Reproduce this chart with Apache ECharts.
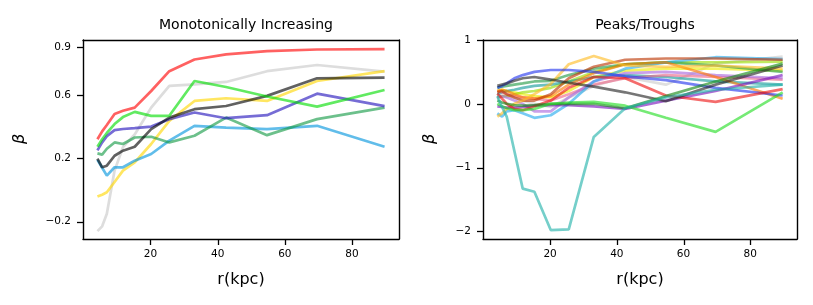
<!DOCTYPE html>
<html>
<head>
<meta charset="utf-8">
<script src="https://cdn.jsdelivr.net/npm/echarts@6/dist/echarts.min.js"></script>
<style>
html,body{margin:0;padding:0;background:#fff;}
#c{width:813px;height:305px;}
</style>
</head>
<body>
<div id="c"></div>
<script>
// radial bins (kpc)
const R = [4.2, 5.6, 7.0, 9.3, 11.8, 15.3, 20.2, 25.6, 33.1, 42.5, 54.7, 69.6, 89.7];

// ---- Monotonically Increasing ----
const mRed       = [0.32, 0.37, 0.41, 0.48, 0.50, 0.52, 0.625, 0.75, 0.824, 0.856, 0.877, 0.887, 0.889];
const mGreen     = [0.273, 0.32, 0.36, 0.416, 0.46, 0.493, 0.468, 0.468, 0.688, 0.65, 0.59, 0.526, 0.631];
const mPurple    = [0.25, 0.30, 0.34, 0.378, 0.385, 0.39, 0.40, 0.447, 0.489, 0.453, 0.472, 0.608, 0.529];
const mMedGreen  = [0.231, 0.223, 0.26, 0.30, 0.29, 0.331, 0.336, 0.30, 0.342, 0.457, 0.346, 0.447, 0.52];
const mDarkGrey  = [0.198, 0.143, 0.153, 0.216, 0.248, 0.273, 0.384, 0.457, 0.51, 0.53, 0.594, 0.705, 0.709];
const mBlue      = [0.19, 0.14, 0.09, 0.143, 0.143, 0.185, 0.227, 0.311, 0.405, 0.394, 0.384, 0.405, 0.273];
const mYellow    = [-0.042, -0.03, -0.015, 0.05, 0.122, 0.174, 0.29, 0.436, 0.562, 0.579, 0.562, 0.688, 0.75];
const mLightGrey = [-0.26, -0.23, -0.15, 0.122, 0.27, 0.35, 0.52, 0.657, 0.667, 0.682, 0.75, 0.789, 0.747];

// ---- Peaks/Troughs ----
const pCyan      = [0.12, -0.05, -0.2, -0.74, -1.33, -1.38, -1.98, -1.97, -0.52, -0.07, 0.1, 0.22, 0.30];
const pGreen     = [0.0, -0.04, -0.07, -0.1, -0.1, -0.08, 0.0, 0.02, 0.03, -0.03, -0.22, -0.44, 0.18];
const pDarkGrey  = [0.28, 0.3, 0.32, 0.36, 0.40, 0.42, 0.38, 0.33, 0.27, 0.18, 0.04, 0.3, 0.6];
const pDarkGreen = [0.05, 0.02, 0.0, -0.02, -0.03, -0.02, 0.0, 0.0, 0.0, -0.07, 0.12, 0.35, 0.63];
const pBlue      = [0.25, 0.28, 0.32, 0.40, 0.45, 0.50, 0.53, 0.53, 0.50, 0.43, 0.37, 0.25, 0.13];
const pGold      = [-0.2, -0.15, -0.08, 0.0, 0.05, 0.15, 0.31, 0.62, 0.75, 0.6, 0.58, 0.6, 0.55];
const pRed       = [0.16, 0.08, 0.0, -0.08, -0.1, -0.04, 0.05, 0.25, 0.42, 0.40, 0.13, 0.03, 0.23];
const pBrown     = [0.18, 0.2, 0.15, 0.1, 0.05, 0.05, 0.15, 0.4, 0.58, 0.69, 0.71, 0.71, 0.69];
const pOrange    = [0.2, 0.22, 0.2, 0.15, 0.1, 0.08, 0.12, 0.3, 0.48, 0.62, 0.65, 0.42, 0.08];
const pPurple    = [-0.04, -0.05, -0.06, -0.06, -0.05, -0.03, -0.02, -0.02, -0.04, -0.08, 0.05, 0.2, 0.45];
const pLavender  = [0.1, 0.12, 0.1, 0.05, 0.0, -0.12, -0.12, 0.1, 0.35, 0.48, 0.5, 0.45, 0.4];
const pLightGrey = [0.15, 0.12, 0.12, 0.1, 0.05, 0.0, -0.05, 0.1, 0.28, 0.42, 0.3, 0.63, 0.74];
const pSkyBlue   = [-0.15, -0.2, -0.12, -0.1, -0.15, -0.22, -0.18, 0.0, 0.35, 0.55, 0.65, 0.73, 0.7];
const pYellow    = [0.2, 0.22, 0.2, 0.18, 0.15, 0.12, 0.1, 0.2, 0.42, 0.52, 0.55, 0.55, 0.52];
const pYellowGrn = [0.1, 0.12, 0.12, 0.15, 0.18, 0.2, 0.25, 0.35, 0.5, 0.62, 0.65, 0.65, 0.66];
const pMedGreen  = [0.25, 0.27, 0.28, 0.3, 0.32, 0.35, 0.36, 0.45, 0.55, 0.62, 0.65, 0.6, 0.5];
const pTeal      = [0.15, 0.18, 0.2, 0.22, 0.25, 0.28, 0.3, 0.35, 0.42, 0.45, 0.42, 0.35, 0.3];
const pPink      = [0.2, 0.18, 0.15, 0.12, 0.1, 0.08, 0.05, 0.15, 0.3, 0.4, 0.45, 0.42, 0.38];

// tick labels
const xTicks = [20, 40, 60, 80];
const yTicksLeft = [-0.2, 0.2, 0.6, 0.9];
const yTicksRight = [-2, -1, 0, 1];
const titles = ['Monotonically Increasing', 'Peaks/Troughs'];
const xLabel = 'r(kpc)';
const yLabel = 'β';

const leftSeries = [
  [mLightGrey, '#c8c8c8'],
  [mYellow, '#ffd700'],
  [mBlue, '#0095dd'],
  [mMedGreen, '#119944'],
  [mPurple, '#2211bb'],
  [mDarkGrey, '#000000'],
  [mGreen, '#00dd00'],
  [mRed, '#ff0000']
];
const rightSeries = [
  [pLightGrey, '#cccccc'],
  [pYellow, '#eeee00'],
  [pYellowGrn, '#99dd00'],
  [pMedGreen, '#229944'],
  [pTeal, '#119999'],
  [pPink, '#ee6688'],
  [pLavender, '#aa66dd'],
  [pSkyBlue, '#22aaee'],
  [pOrange, '#ff7700'],
  [pBrown, '#bb3300'],
  [pGold, '#ffbb22'],
  [pBlue, '#2233ee'],
  [pPurple, '#7711bb'],
  [pRed, '#ee1111'],
  [pDarkGrey, '#222222'],
  [pDarkGreen, '#118811'],
  [pGreen, '#22dd22'],
  [pCyan, '#20b2aa']
];

const FONT = 'DejaVu Sans';
const minus = v => String(v).replace('-', '\u2212');
const LINE = {color: '#000', width: 1.4};
const TICK_LEN = 6;
const X_RANGE = [-0.1, 94];
const Y_RANGES = [[-0.31, 0.947], [-2.12, 1.0]];
const GRIDS = [
  {left: 83, top: 40, width: 316, height: 199},
  {left: 483, top: 40, width: 314, height: 199}
];

function xAxisCfg(gi) {
  return {
    type: 'value', gridIndex: gi, min: X_RANGE[0], max: X_RANGE[1], position: 'bottom',
    axisLine: {show: true, onZero: false, lineStyle: LINE},
    splitLine: {show: false},
    axisTick: {show: false},
    axisLabel: {show: true, fontFamily: FONT, fontSize: 10.5, color: '#000', margin: 10, customValues: xTicks, formatter: v => minus(v)}
  };
}
function xTopCfg(gi) {
  return {
    type: 'value', gridIndex: gi, min: X_RANGE[0], max: X_RANGE[1], position: 'top',
    axisLine: {show: true, onZero: false, lineStyle: LINE},
    splitLine: {show: false}, axisTick: {show: false}, axisLabel: {show: false}
  };
}
function yAxisCfg(gi, ticks) {
  return {
    type: 'value', gridIndex: gi, min: Y_RANGES[gi][0], max: Y_RANGES[gi][1], position: 'left',
    axisLine: {show: true, onZero: false, lineStyle: LINE},
    splitLine: {show: false},
    axisTick: {show: false},
    axisLabel: {show: true, fontFamily: FONT, fontSize: 10.5, color: '#000', margin: 12, customValues: ticks, formatter: v => minus(v)}
  };
}
function yRightCfg(gi) {
  return {
    type: 'value', gridIndex: gi, min: Y_RANGES[gi][0], max: Y_RANGES[gi][1], position: 'right',
    axisLine: {show: true, onZero: false, lineStyle: LINE},
    splitLine: {show: false}, axisTick: {show: false}, axisLabel: {show: false}
  };
}

function mk(list, gi) {
  return list.map(([vals, col]) => ({
    type: 'line', xAxisIndex: gi, yAxisIndex: gi,
    data: R.map((x, i) => [x, vals[i]]),
    showSymbol: false, symbol: 'none', silent: true, animation: false,
    lineStyle: {color: col, width: 2.7, opacity: 0.62}
  }));
}

// outward tick marks, positioned by the same linear scale as the axes
function tickMarks() {
  const out = [];
  GRIDS.forEach((g, gi) => {
    const sx = v => g.left + (v - X_RANGE[0]) / (X_RANGE[1] - X_RANGE[0]) * g.width;
    const [y0, y1] = Y_RANGES[gi];
    const sy = v => g.top + (y1 - v) / (y1 - y0) * g.height;
    const yb = g.top + g.height;
    xTicks.forEach(v => {
      const px = Math.round(sx(v)) + 0.5;
      out.push({type: 'line', silent: true, z: 100,
        shape: {x1: px, y1: yb, x2: px, y2: yb + TICK_LEN}, style: {stroke: '#000', lineWidth: 1.3}});
    });
    (gi === 0 ? yTicksLeft : yTicksRight).forEach(v => {
      const py = Math.round(sy(v)) + 0.5;
      out.push({type: 'line', silent: true, z: 100,
        shape: {x1: g.left, y1: py, x2: g.left - TICK_LEN, y2: py}, style: {stroke: '#000', lineWidth: 1.3}});
    });
  });
  return out;
}

const chart = echarts.init(document.getElementById('c'), null, {renderer: 'canvas'});
chart.setOption({
  animation: false,
  backgroundColor: '#fff',
  title: [
    {text: titles[0], left: 241, top: 13, textAlign: 'center',
     textStyle: {fontFamily: FONT, fontSize: 14, fontWeight: 'normal', color: '#000'}},
    {text: titles[1], left: 640, top: 13, textAlign: 'center',
     textStyle: {fontFamily: FONT, fontSize: 14, fontWeight: 'normal', color: '#000'}}
  ],
  grid: GRIDS.map(g => Object.assign({show: false}, g)),
  xAxis: [xAxisCfg(0), xAxisCfg(1), xTopCfg(0), xTopCfg(1)],
  yAxis: [yAxisCfg(0, yTicksLeft), yAxisCfg(1, yTicksRight), yRightCfg(0), yRightCfg(1)],
  graphic: [
    {type: 'text', x: 241, y: 280, style: {text: xLabel, font: '16px "DejaVu Sans"', fill: '#000', align: 'center', verticalAlign: 'middle'}},
    {type: 'text', x: 640, y: 280, style: {text: xLabel, font: '16px "DejaVu Sans"', fill: '#000', align: 'center', verticalAlign: 'middle'}},
    {type: 'text', x: 20, y: 139, rotation: Math.PI / 2, style: {text: yLabel, font: 'italic 16px "DejaVu Sans"', fill: '#000', align: 'center', verticalAlign: 'middle'}},
    {type: 'text', x: 430, y: 139, rotation: Math.PI / 2, style: {text: yLabel, font: 'italic 16px "DejaVu Sans"', fill: '#000', align: 'center', verticalAlign: 'middle'}}
  ].concat(tickMarks()),
  series: mk(leftSeries, 0).concat(mk(rightSeries, 1))
});
</script>
</body>
</html>
